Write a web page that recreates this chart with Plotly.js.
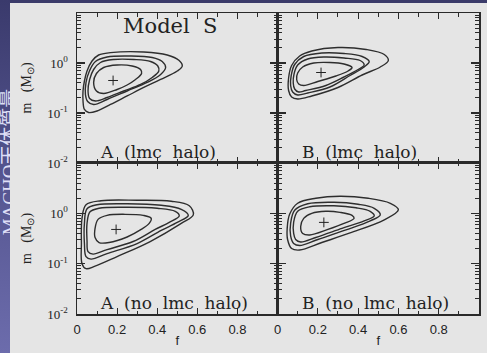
<!DOCTYPE html>
<html>
<head>
<meta charset="utf-8">
<script src="https://cdn.plot.ly/plotly-3.0.1.min.js"></script>
<style>
  html, body { margin:0; padding:0; background:#e5e5e5; }
  #wrap { position:relative; width:487px; height:353px; overflow:hidden; }
  #chart { position:absolute; left:0; top:0; width:487px; height:353px; }
  #strip { position:absolute; left:0; top:0; width:10px; height:353px; overflow:hidden;
           background:linear-gradient(#3a3a6c, #5a5a96 60%, #6c6cac); z-index:5; }
  #striptext { position:absolute; left:7px; top:162px; transform:translate(-50%,-50%) rotate(-90deg);
               white-space:nowrap; font-family:"Liberation Serif","Noto Sans CJK JP"; font-size:19px; color:#dedef6; }
  #topstrip { position:absolute; left:0; top:0; width:487px; height:3px; background:#3b3b6a; z-index:4; }
</style>
</head>
<body>
<div id="wrap">
  <div id="chart"></div>
  <div id="topstrip"></div>
  <div id="strip"><div id="striptext">MACHO天体質量</div></div>
</div>
<script>
// ---- data (f = halo fraction, logM = log10 of MACHO mass in solar masses) ----
const panelLabels = ['A\u00a0\u00a0(lmc\u00a0\u00a0halo)', 'B\u00a0\u00a0(lmc\u00a0\u00a0halo)',
                     'A\u00a0\u00a0(no\u00a0\u00a0lmc\u00a0\u00a0halo)', 'B\u00a0\u00a0(no\u00a0\u00a0lmc\u00a0\u00a0halo)'];
const modelLabel = 'Model\u00a0 S';

// best-fit points
const bestF    = [0.18, 0.216, 0.195, 0.23];
const bestLogM = [-0.35, -0.19, -0.32, -0.18];

// contours, panel A (lmc halo): outer -> inner
const contF_A_lmc = [
  [0.333,0.25,0.167,0.1,0.058,0.037,0.03,0.03,0.037,0.05,0.075,0.108,0.167,0.333,0.45,0.508,0.525,0.5,0.417],
  [0.25,0.15,0.083,0.053,0.042,0.045,0.062,0.092,0.15,0.267,0.375,0.425,0.442,0.417,0.35],
  [0.233,0.15,0.092,0.063,0.055,0.063,0.083,0.117,0.183,0.283,0.367,0.403,0.408,0.375,0.317],
  [0.2,0.133,0.097,0.083,0.097,0.133,0.2,0.275,0.317,0.322,0.292,0.25]
];
const contLogM_A_lmc = [
  [-0.49,-0.66,-0.83,-0.96,-0.99,-0.93,-0.76,-0.56,-0.36,-0.16,0.04,0.16,0.207,0.22,0.16,0.053,-0.06,-0.16,-0.33],
  [-0.56,-0.73,-0.83,-0.77,-0.63,-0.39,-0.16,0.03,0.12,0.14,0.11,0.03,-0.09,-0.23,-0.39],
  [-0.56,-0.69,-0.76,-0.71,-0.56,-0.33,-0.13,0.01,0.07,0.07,0.03,-0.06,-0.16,-0.29,-0.43],
  [-0.53,-0.61,-0.56,-0.39,-0.21,-0.09,-0.04,-0.06,-0.13,-0.21,-0.33,-0.44]
];

// contours, panel B (lmc halo)
const contF_B_lmc = [
  [0.30,0.17,0.10,0.07,0.055,0.055,0.07,0.11,0.17,0.30,0.44,0.53,0.55,0.51,0.42],
  [0.26,0.15,0.10,0.075,0.065,0.068,0.085,0.13,0.22,0.33,0.42,0.455,0.43,0.36],
  [0.24,0.14,0.105,0.085,0.078,0.082,0.10,0.15,0.23,0.33,0.41,0.43,0.40,0.33],
  [0.20,0.13,0.105,0.095,0.10,0.125,0.18,0.26,0.33,0.37,0.35,0.29]
];
const contLogM_B_lmc = [
  [-0.49,-0.66,-0.72,-0.68,-0.55,-0.30,-0.05,0.14,0.24,0.31,0.27,0.17,0.05,-0.08,-0.24],
  [-0.48,-0.60,-0.64,-0.58,-0.45,-0.25,-0.03,0.13,0.20,0.19,0.13,0.03,-0.08,-0.25],
  [-0.45,-0.55,-0.58,-0.52,-0.40,-0.22,-0.04,0.08,0.12,0.10,0.05,-0.04,-0.13,-0.28],
  [-0.37,-0.45,-0.42,-0.33,-0.20,-0.08,0.0,0.01,-0.02,-0.09,-0.16,-0.26]
];

// contours, panel A (no lmc halo)
const contF_A_nolmc = [
  [0.365,0.2,0.09,0.045,0.025,0.022,0.025,0.045,0.12,0.30,0.47,0.56,0.58,0.52],
  [0.30,0.15,0.07,0.045,0.037,0.037,0.05,0.10,0.25,0.42,0.52,0.555,0.50,0.42],
  [0.28,0.15,0.08,0.055,0.05,0.05,0.065,0.11,0.25,0.40,0.49,0.51,0.46,0.39],
  [0.25,0.16,0.11,0.09,0.09,0.105,0.15,0.24,0.33,0.37,0.36,0.32]
];
const contLogM_A_nolmc = [
  [-0.56,-0.86,-1.05,-1.1,-1.0,-0.6,-0.1,0.17,0.25,0.26,0.24,0.15,-0.03,-0.2],
  [-0.60,-0.80,-0.91,-0.86,-0.60,-0.20,0.09,0.17,0.19,0.16,0.08,-0.04,-0.18,-0.34],
  [-0.56,-0.72,-0.81,-0.76,-0.55,-0.20,0.03,0.10,0.12,0.10,0.04,-0.05,-0.18,-0.32],
  [-0.47,-0.58,-0.58,-0.48,-0.30,-0.12,-0.04,-0.02,-0.04,-0.10,-0.20,-0.32]
];

// contours, panel B (no lmc halo)
const contF_B_nolmc = [
  [0.36,0.22,0.11,0.07,0.05,0.048,0.06,0.10,0.19,0.31,0.45,0.56,0.60,0.53],
  [0.34,0.20,0.11,0.08,0.065,0.065,0.085,0.15,0.28,0.40,0.48,0.51,0.46],
  [0.32,0.19,0.115,0.09,0.08,0.08,0.10,0.16,0.28,0.39,0.46,0.48,0.43],
  [0.25,0.16,0.125,0.115,0.13,0.17,0.24,0.31,0.37,0.38,0.33]
];
const contLogM_B_nolmc = [
  [-0.39,-0.58,-0.73,-0.70,-0.52,-0.30,-0.02,0.20,0.30,0.34,0.30,0.20,0.07,-0.13],
  [-0.33,-0.52,-0.64,-0.60,-0.45,-0.20,0.06,0.19,0.22,0.18,0.10,-0.03,-0.15],
  [-0.30,-0.48,-0.57,-0.52,-0.40,-0.18,0.04,0.13,0.15,0.11,0.04,-0.05,-0.15],
  [-0.32,-0.43,-0.40,-0.26,-0.10,0.0,0.04,0.02,-0.04,-0.10,-0.20]
];

// tick labels
const xTickVals = [0, 0.2, 0.4, 0.6, 0.8];
const xTickText = ['0', '0.2', '0.4', '0.6', '0.8'];
const yTickVals = [0.01, 0.1, 1];
const yTickText = ['10<sup>-2</sup>', '10<sup>-1</sup>', '10<sup>0</sup>'];
const yMinorVals = [0.02,0.03,0.04,0.05,0.06,0.07,0.08,0.09,0.2,0.3,0.4,0.5,0.6,0.7,0.8,0.9,2,3,4,5,6,7,8,9];
const xTitle = 'f';
const yTitle = 'm\u00a0\u00a0\u00a0(M<sub>\u2299</sub>)';

// ---- build traces ----
const panels = [
  {f: contF_A_lmc,   l: contLogM_A_lmc,   xa: 'x',  ya: 'y'},
  {f: contF_B_lmc,   l: contLogM_B_lmc,   xa: 'x2', ya: 'y2'},
  {f: contF_A_nolmc, l: contLogM_A_nolmc, xa: 'x3', ya: 'y3'},
  {f: contF_B_nolmc, l: contLogM_B_nolmc, xa: 'x4', ya: 'y4'}
];
const toM = v => Math.pow(10, v);
const traces = [];
panels.forEach((p, i) => {
  p.f.forEach((fs, k) => {
    const xs = fs.concat([fs[0]]);
    const ys = p.l[k].concat([p.l[k][0]]).map(toM);
    traces.push({type:'scatter', mode:'lines', x: xs, y: ys, xaxis: p.xa, yaxis: p.ya,
      line:{color:'#2e2e2e', width:1.4, shape:'spline', smoothing:1},
      hoverinfo:'skip', showlegend:false});
  });
  traces.push({type:'scatter', mode:'markers', x:[bestF[i]], y:[toM(bestLogM[i])], xaxis:p.xa, yaxis:p.ya,
    marker:{symbol:'cross-thin-open', size:7, color:'#222', line:{width:1, color:'#222'}}, hoverinfo:'skip', showlegend:false});
});

// ---- layout ----
const axisCol = '#2a2a2a';
function xAxis(domain, labels, anchor) {
  return {domain: domain, anchor: anchor, range:[0,1], showline:true, linecolor:axisCol, linewidth:1.5,
    mirror:'ticks', ticks:'inside', ticklen:6, tickwidth:1.2, tickcolor:axisCol,
    tickmode:'array', tickvals:xTickVals, ticktext:xTickText, showticklabels:labels,
    ticklabelstandoff:3,
    minor:{ticks:'inside', dtick:0.1, tick0:0, ticklen:3.5, tickwidth:1, tickcolor:axisCol, showgrid:false},
    showgrid:false, zeroline:false,
    tickfont:{family:'Liberation Sans, Arial, sans-serif', size:13, color:'#222'},
    title: labels ? {text:xTitle, font:{family:'Liberation Sans, Arial, sans-serif', size:13, color:'#222'}, standoff:0} : {text:''}};
}
function yAxis(domain, labels, anchor) {
  return {domain: domain, anchor: anchor, type:'log', range:[-2,1], showline:true, linecolor:axisCol, linewidth:1.5,
    mirror:'ticks', ticks:'inside', ticklen:8, tickwidth:1.2, tickcolor:axisCol,
    tickmode:'array', tickvals:yTickVals, ticktext:yTickText, showticklabels:labels,
    ticklabelstandoff:5,
    minor:{ticks:'inside', tickmode:'array', tickvals:yMinorVals, ticklen:4, tickwidth:1, tickcolor:axisCol, showgrid:false},
    showgrid:false, zeroline:false,
    tickfont:{family:'Liberation Serif, serif', size:13, color:'#222'},
    title: labels ? {text:yTitle, font:{family:'Liberation Serif, serif', size:14, color:'#222'}, standoff:12} : {text:''}};
}
const xl = [0, 0.4988], xr = [0.4988, 1];
const yt = [0.5017, 1], yb = [0, 0.5017];

const annFont = {family:'DejaVu Serif, serif', size:17, color:'#222'};
const layout = {
  width:487, height:353,
  margin:{l:77, r:8, t:13, b:39},
  paper_bgcolor:'#e5e5e5', plot_bgcolor:'#e5e5e5',
  showlegend:false,
  xaxis:  xAxis(xl, false, 'y'),
  xaxis2: xAxis(xr, false, 'y2'),
  xaxis3: xAxis(xl, true,  'y3'),
  xaxis4: xAxis(xr, true,  'y4'),
  yaxis:  yAxis(yt, true,  'x'),
  yaxis2: yAxis(yt, false, 'x2'),
  yaxis3: yAxis(yb, true,  'x3'),
  yaxis4: yAxis(yb, false, 'x4'),
  annotations:[
    {xref:'x domain', yref:'y domain', x:0.22, y:0.915, xanchor:'left', yanchor:'middle', showarrow:false,
     text:modelLabel, font:{family:'DejaVu Serif, serif', size:21, color:'#222'}},
    {xref:'x domain',  yref:'y domain',  x:0.105, y:0.07, xanchor:'left', yanchor:'middle', showarrow:false, text:panelLabels[0], font:annFont},
    {xref:'x2 domain', yref:'y2 domain', x:0.112, y:0.07, xanchor:'left', yanchor:'middle', showarrow:false, text:panelLabels[1], font:annFont},
    {xref:'x3 domain', yref:'y3 domain', x:0.105, y:0.07, xanchor:'left', yanchor:'middle', showarrow:false, text:panelLabels[2], font:annFont},
    {xref:'x4 domain', yref:'y4 domain', x:0.112, y:0.07, xanchor:'left', yanchor:'middle', showarrow:false, text:panelLabels[3], font:annFont}
  ]
};
Plotly.newPlot('chart', traces, layout, {staticPlot:true, displayModeBar:false});
</script>
</body>
</html>
